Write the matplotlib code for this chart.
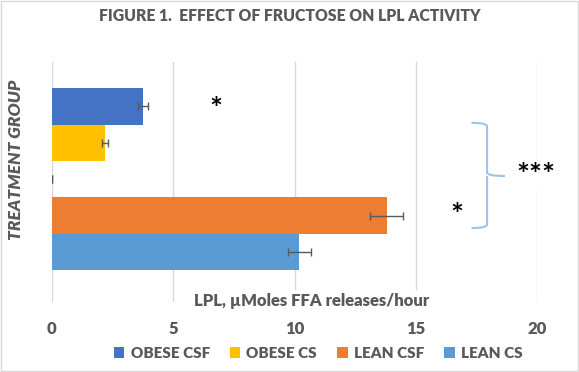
import matplotlib
matplotlib.use("Agg")
import matplotlib.pyplot as plt
from matplotlib.patches import Patch, PathPatch, Rectangle
from matplotlib.path import Path

# bars from bottom to top; the empty slot separates lean and obese groups
groups = ["LEAN CS", "LEAN CSF", "", "OBESE CS", "OBESE CSF"]
values = [10.2, 13.8, 0.0, 2.2, 3.75]
errors = [0.48, 0.68, 0.0, 0.12, 0.2]
colors = ["#5B9BD5", "#ED7D31", "none", "#FFC000", "#4472C4"]
legend_order = ["OBESE CSF", "OBESE CS", "LEAN CSF", "LEAN CS"]
xticks = [0, 5, 10, 15, 20]

gray = "#595959"
plt.rcParams['font.family'] = ['Lato', 'DejaVu Sans']

fig = plt.figure(figsize=(5.79, 3.72), dpi=100)
ax = fig.add_axes([0.0898, 1 - 302 / 372, 0.8377, 240 / 372])

pos = list(range(len(values)))
ax.barh(pos, values, height=1.0, color=colors, zorder=2)
ax.errorbar(values, pos, xerr=errors, fmt="none", ecolor=gray,
            elinewidth=1.0, capsize=3, capthick=1.0, zorder=3)

ax.set_xlim(0, 20)
ax.set_ylim(-1.37, 5.22)
ax.set_xticks(xticks)
ax.set_yticks([])
ax.grid(axis="x", color="#D9D9D9", linewidth=1.0, zorder=0)
for s in ax.spines.values():
    s.set_visible(False)
ax.tick_params(axis="x", length=0, pad=14, labelsize=12, labelcolor=gray)
for lbl in ax.get_xticklabels():
    lbl.set_fontweight("heavy")

fig.text(0.5, 1 - 16 / 372, "FIGURE 1.  EFFECT OF FRUCTOSE ON LPL ACTIVITY",
         ha="center", va="center", fontsize=11.3, fontweight="heavy", color=gray)
fig.text(16 / 579, 1 - 160 / 372, "TREATMENT GROUP", rotation=90,
         ha="center", va="center", fontsize=12.5, fontweight="heavy",
         style="italic", color=gray)
fig.text(312 / 579, 1 - 301 / 372, "LPL, \u00b5Moles FFA releases/hour",
         ha="center", va="center", fontsize=12, fontweight="heavy", color=gray,
         bbox=dict(facecolor="white", edgecolor="none", pad=2))

# significance marks
ax.text(6.76, 3.9, "*", ha="center", va="center", fontsize=22,
        fontweight="bold", color="black")
ax.text(16.7, 1.0, "*", ha="center", va="center", fontsize=22,
        fontweight="bold", color="black")
ax.text(19.96, 2.1, "***", ha="center", va="center", fontsize=22,
        fontweight="bold", color="black", clip_on=False,
        bbox=dict(facecolor="white", edgecolor="none", pad=0))

# curly brace grouping the lean bars against obese
x0, x1, xt = 17.3, 17.94, 18.68
yt, yb, ym = 3.55, 0.66, 2.09
verts = [(x0, yt), (x1, yt), (x1, yt - 0.1), (x1, yt - 0.15),
         (x1, ym + 0.1), (x1, ym), (xt, ym),
         (x1, ym), (x1, ym - 0.1), (x1, yb + 0.15),
         (x1, yb + 0.1), (x1, yb), (x0, yb)]
codes = [Path.MOVETO, Path.CURVE3, Path.CURVE3, Path.LINETO,
         Path.LINETO, Path.CURVE3, Path.CURVE3,
         Path.MOVETO, Path.CURVE3, Path.CURVE3,
         Path.LINETO, Path.CURVE3, Path.CURVE3]
ax.add_patch(PathPatch(Path(verts, codes), fill=False, edgecolor="#9DC3E6",
                       linewidth=1.5, clip_on=False, zorder=4))

handles = [Patch(facecolor=colors[groups.index(g)]) for g in legend_order]
leg = fig.legend(handles, legend_order, loc="center", ncol=4,
                 bbox_to_anchor=(318 / 579, 1 - 353 / 372), frameon=False,
                 handlelength=0.7, handleheight=0.7, handletextpad=0.4,
                 columnspacing=1.3, prop=dict(size=11, weight="heavy"))
for t in leg.get_texts():
    t.set_color(gray)

fig.patches.append(Rectangle((0.002, 0.003), 0.996, 0.994, transform=fig.transFigure,
                             fill=False, edgecolor="#D9D9D9", linewidth=1.0))

fig.savefig("out.png", dpi=100)
